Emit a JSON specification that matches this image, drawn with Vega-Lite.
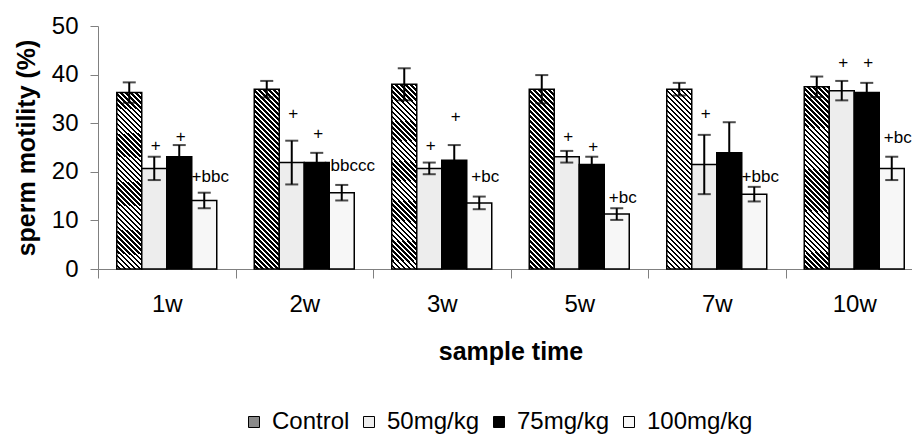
{
  "$schema": "https://vega.github.io/schema/vega-lite/v6.json",
  "width": 814,
  "height": 243,
  "autosize": {"type": "none"},
  "padding": {"left": 98, "top": 26, "right": 0, "bottom": 168},
  "background": "white",
  "config": {
    "font": "Liberation Sans",
    "view": {"stroke": null},
    "axis": {"grid": false},
    "axisX": {"tickBand": "extent", "labelAngle": 0, "labelFontSize": 24, "titleFontSize": 25, "titleFontWeight": "bold", "domainColor": "#808080", "tickColor": "#808080", "tickSize": 9, "labelPadding": 14, "titlePadding": 23, "labelColor": "black", "titleColor": "black"},
    "axisY": {"labelFontSize": 24, "titleFontSize": 25, "titleFontWeight": "bold", "domainColor": "#808080", "tickColor": "#808080", "tickSize": 8, "labelPadding": 12, "titlePadding": 12, "labelColor": "black", "titleColor": "black"}
  },
  "datasets": {
    "bars": [
      {"time": "1w", "group": "Control", "value": 36.3, "lo": 34.2, "hi": 38.4},
      {"time": "1w", "group": "50mg/kg", "value": 20.7, "lo": 18.3, "hi": 23.1},
      {"time": "1w", "group": "75mg/kg", "value": 23.1, "lo": 20.7, "hi": 25.5},
      {"time": "1w", "group": "100mg/kg", "value": 14.1, "lo": 12.5, "hi": 15.7},
      {"time": "2w", "group": "Control", "value": 37.0, "lo": 35.3, "hi": 38.7},
      {"time": "2w", "group": "50mg/kg", "value": 21.9, "lo": 17.4, "hi": 26.4},
      {"time": "2w", "group": "75mg/kg", "value": 21.9, "lo": 19.9, "hi": 23.9},
      {"time": "2w", "group": "100mg/kg", "value": 15.7, "lo": 14.1, "hi": 17.3},
      {"time": "3w", "group": "Control", "value": 38.0, "lo": 34.7, "hi": 41.3},
      {"time": "3w", "group": "50mg/kg", "value": 20.7, "lo": 19.5, "hi": 21.9},
      {"time": "3w", "group": "75mg/kg", "value": 22.4, "lo": 19.3, "hi": 25.5},
      {"time": "3w", "group": "100mg/kg", "value": 13.6, "lo": 12.3, "hi": 14.9},
      {"time": "5w", "group": "Control", "value": 37.0, "lo": 34.1, "hi": 39.9},
      {"time": "5w", "group": "50mg/kg", "value": 23.1, "lo": 21.9, "hi": 24.3},
      {"time": "5w", "group": "75mg/kg", "value": 21.5, "lo": 19.9, "hi": 23.1},
      {"time": "5w", "group": "100mg/kg", "value": 11.3, "lo": 10.1, "hi": 12.5},
      {"time": "7w", "group": "Control", "value": 37.0, "lo": 35.7, "hi": 38.3},
      {"time": "7w", "group": "50mg/kg", "value": 21.5, "lo": 15.4, "hi": 27.6},
      {"time": "7w", "group": "75mg/kg", "value": 23.9, "lo": 17.6, "hi": 30.2},
      {"time": "7w", "group": "100mg/kg", "value": 15.4, "lo": 13.9, "hi": 16.9},
      {"time": "10w", "group": "Control", "value": 37.5, "lo": 35.4, "hi": 39.6},
      {"time": "10w", "group": "50mg/kg", "value": 36.7, "lo": 34.7, "hi": 38.7},
      {"time": "10w", "group": "75mg/kg", "value": 36.3, "lo": 34.3, "hi": 38.3},
      {"time": "10w", "group": "100mg/kg", "value": 20.7, "lo": 18.3, "hi": 23.1}
    ],
    "labels": [
      {"time": "1w", "group": "50mg/kg", "label": "+", "pos": 25.3},
      {"time": "1w", "group": "75mg/kg", "label": "+", "pos": 27.2},
      {"time": "1w", "group": "100mg/kg", "label": "+bbc", "pos": 18.9},
      {"time": "2w", "group": "50mg/kg", "label": "+", "pos": 31.9},
      {"time": "2w", "group": "75mg/kg", "label": "+", "pos": 27.8},
      {"time": "2w", "group": "100mg/kg", "label": "+bbccc", "pos": 21.2},
      {"time": "3w", "group": "50mg/kg", "label": "+", "pos": 25.3},
      {"time": "3w", "group": "75mg/kg", "label": "+", "pos": 31.3},
      {"time": "3w", "group": "100mg/kg", "label": "+bc", "pos": 18.9},
      {"time": "5w", "group": "50mg/kg", "label": "+", "pos": 27.2},
      {"time": "5w", "group": "75mg/kg", "label": "+", "pos": 25.1},
      {"time": "5w", "group": "100mg/kg", "label": "+bc", "pos": 14.6},
      {"time": "7w", "group": "50mg/kg", "label": "+", "pos": 31.9},
      {"time": "7w", "group": "100mg/kg", "label": "+bbc", "pos": 18.9},
      {"time": "10w", "group": "50mg/kg", "label": "+", "pos": 42.3},
      {"time": "10w", "group": "75mg/kg", "label": "+", "pos": 42.3},
      {"time": "10w", "group": "100mg/kg", "label": "+bc", "pos": 26.9}
    ]
  },
  "encoding": {
    "x": {"field": "time", "type": "nominal", "sort": ["1w", "2w", "3w", "5w", "7w", "10w"], "title": "sample time", "scale": {"range": [0, 825], "paddingInner": 0, "paddingOuter": 0}},
    "xOffset": {"field": "group", "type": "nominal", "sort": ["Control", "50mg/kg", "75mg/kg", "100mg/kg"], "scale": {"paddingInner": 0, "paddingOuter": 0.75}}
  },
  "layer": [
    {
      "data": {"name": "bars"},
      "mark": {"type": "bar", "stroke": "black", "strokeWidth": 1.5},
      "encoding": {
        "y": {"field": "value", "type": "quantitative", "title": "sperm motility (%)", "scale": {"domain": [0, 50], "nice": false}, "axis": {"values": [0, 10, 20, 30, 40, 50]}},
        "fill": {
          "condition": {"test": "datum.group === 'Control'", "value":
              {"gradient": "linear", "x1": 1, "y1": 0, "x2": 0.845, "y2": 1.117, "stops": [
                {"offset": 0, "color": "#000"}, {"offset": 0.0122, "color": "#000"}, {"offset": 0.0122, "color": "#fff"}, {"offset": 0.0244, "color": "#fff"},
                {"offset": 0.0244, "color": "#000"}, {"offset": 0.0366, "color": "#000"}, {"offset": 0.0366, "color": "#fff"}, {"offset": 0.0488, "color": "#fff"},
                {"offset": 0.0488, "color": "#000"}, {"offset": 0.0610, "color": "#000"}, {"offset": 0.0610, "color": "#fff"}, {"offset": 0.0732, "color": "#fff"},
                {"offset": 0.0732, "color": "#000"}, {"offset": 0.0854, "color": "#000"}, {"offset": 0.0854, "color": "#fff"}, {"offset": 0.0976, "color": "#fff"},
                {"offset": 0.0976, "color": "#000"}, {"offset": 0.1098, "color": "#000"}, {"offset": 0.1098, "color": "#fff"}, {"offset": 0.1220, "color": "#fff"},
                {"offset": 0.1220, "color": "#000"}, {"offset": 0.1341, "color": "#000"}, {"offset": 0.1341, "color": "#fff"}, {"offset": 0.1463, "color": "#fff"},
                {"offset": 0.1463, "color": "#000"}, {"offset": 0.1585, "color": "#000"}, {"offset": 0.1585, "color": "#fff"}, {"offset": 0.1707, "color": "#fff"},
                {"offset": 0.1707, "color": "#000"}, {"offset": 0.1829, "color": "#000"}, {"offset": 0.1829, "color": "#fff"}, {"offset": 0.1951, "color": "#fff"},
                {"offset": 0.1951, "color": "#000"}, {"offset": 0.2073, "color": "#000"}, {"offset": 0.2073, "color": "#fff"}, {"offset": 0.2195, "color": "#fff"},
                {"offset": 0.2195, "color": "#000"}, {"offset": 0.2317, "color": "#000"}, {"offset": 0.2317, "color": "#fff"}, {"offset": 0.2439, "color": "#fff"},
                {"offset": 0.2439, "color": "#000"}, {"offset": 0.2561, "color": "#000"}, {"offset": 0.2561, "color": "#fff"}, {"offset": 0.2683, "color": "#fff"},
                {"offset": 0.2683, "color": "#000"}, {"offset": 0.2805, "color": "#000"}, {"offset": 0.2805, "color": "#fff"}, {"offset": 0.2927, "color": "#fff"},
                {"offset": 0.2927, "color": "#000"}, {"offset": 0.3049, "color": "#000"}, {"offset": 0.3049, "color": "#fff"}, {"offset": 0.3171, "color": "#fff"},
                {"offset": 0.3171, "color": "#000"}, {"offset": 0.3293, "color": "#000"}, {"offset": 0.3293, "color": "#fff"}, {"offset": 0.3415, "color": "#fff"},
                {"offset": 0.3415, "color": "#000"}, {"offset": 0.3537, "color": "#000"}, {"offset": 0.3537, "color": "#fff"}, {"offset": 0.3659, "color": "#fff"},
                {"offset": 0.3659, "color": "#000"}, {"offset": 0.3780, "color": "#000"}, {"offset": 0.3780, "color": "#fff"}, {"offset": 0.3902, "color": "#fff"},
                {"offset": 0.3902, "color": "#000"}, {"offset": 0.4024, "color": "#000"}, {"offset": 0.4024, "color": "#fff"}, {"offset": 0.4146, "color": "#fff"},
                {"offset": 0.4146, "color": "#000"}, {"offset": 0.4268, "color": "#000"}, {"offset": 0.4268, "color": "#fff"}, {"offset": 0.4390, "color": "#fff"},
                {"offset": 0.4390, "color": "#000"}, {"offset": 0.4512, "color": "#000"}, {"offset": 0.4512, "color": "#fff"}, {"offset": 0.4634, "color": "#fff"},
                {"offset": 0.4634, "color": "#000"}, {"offset": 0.4756, "color": "#000"}, {"offset": 0.4756, "color": "#fff"}, {"offset": 0.4878, "color": "#fff"},
                {"offset": 0.4878, "color": "#000"}, {"offset": 0.5000, "color": "#000"}, {"offset": 0.5000, "color": "#fff"}, {"offset": 0.5122, "color": "#fff"},
                {"offset": 0.5122, "color": "#000"}, {"offset": 0.5244, "color": "#000"}, {"offset": 0.5244, "color": "#fff"}, {"offset": 0.5366, "color": "#fff"},
                {"offset": 0.5366, "color": "#000"}, {"offset": 0.5488, "color": "#000"}, {"offset": 0.5488, "color": "#fff"}, {"offset": 0.5610, "color": "#fff"},
                {"offset": 0.5610, "color": "#000"}, {"offset": 0.5732, "color": "#000"}, {"offset": 0.5732, "color": "#fff"}, {"offset": 0.5854, "color": "#fff"},
                {"offset": 0.5854, "color": "#000"}, {"offset": 0.5976, "color": "#000"}, {"offset": 0.5976, "color": "#fff"}, {"offset": 0.6098, "color": "#fff"},
                {"offset": 0.6098, "color": "#000"}, {"offset": 0.6220, "color": "#000"}, {"offset": 0.6220, "color": "#fff"}, {"offset": 0.6341, "color": "#fff"},
                {"offset": 0.6341, "color": "#000"}, {"offset": 0.6463, "color": "#000"}, {"offset": 0.6463, "color": "#fff"}, {"offset": 0.6585, "color": "#fff"},
                {"offset": 0.6585, "color": "#000"}, {"offset": 0.6707, "color": "#000"}, {"offset": 0.6707, "color": "#fff"}, {"offset": 0.6829, "color": "#fff"},
                {"offset": 0.6829, "color": "#000"}, {"offset": 0.6951, "color": "#000"}, {"offset": 0.6951, "color": "#fff"}, {"offset": 0.7073, "color": "#fff"},
                {"offset": 0.7073, "color": "#000"}, {"offset": 0.7195, "color": "#000"}, {"offset": 0.7195, "color": "#fff"}, {"offset": 0.7317, "color": "#fff"},
                {"offset": 0.7317, "color": "#000"}, {"offset": 0.7439, "color": "#000"}, {"offset": 0.7439, "color": "#fff"}, {"offset": 0.7561, "color": "#fff"},
                {"offset": 0.7561, "color": "#000"}, {"offset": 0.7683, "color": "#000"}, {"offset": 0.7683, "color": "#fff"}, {"offset": 0.7805, "color": "#fff"},
                {"offset": 0.7805, "color": "#000"}, {"offset": 0.7927, "color": "#000"}, {"offset": 0.7927, "color": "#fff"}, {"offset": 0.8049, "color": "#fff"},
                {"offset": 0.8049, "color": "#000"}, {"offset": 0.8171, "color": "#000"}, {"offset": 0.8171, "color": "#fff"}, {"offset": 0.8293, "color": "#fff"},
                {"offset": 0.8293, "color": "#000"}, {"offset": 0.8415, "color": "#000"}, {"offset": 0.8415, "color": "#fff"}, {"offset": 0.8537, "color": "#fff"},
                {"offset": 0.8537, "color": "#000"}, {"offset": 0.8659, "color": "#000"}, {"offset": 0.8659, "color": "#fff"}, {"offset": 0.8780, "color": "#fff"},
                {"offset": 0.8780, "color": "#000"}, {"offset": 0.8902, "color": "#000"}, {"offset": 0.8902, "color": "#fff"}, {"offset": 0.9024, "color": "#fff"},
                {"offset": 0.9024, "color": "#000"}, {"offset": 0.9146, "color": "#000"}, {"offset": 0.9146, "color": "#fff"}, {"offset": 0.9268, "color": "#fff"},
                {"offset": 0.9268, "color": "#000"}, {"offset": 0.9390, "color": "#000"}, {"offset": 0.9390, "color": "#fff"}, {"offset": 0.9512, "color": "#fff"},
                {"offset": 0.9512, "color": "#000"}, {"offset": 0.9634, "color": "#000"}, {"offset": 0.9634, "color": "#fff"}, {"offset": 0.9756, "color": "#fff"},
                {"offset": 0.9756, "color": "#000"}, {"offset": 0.9878, "color": "#000"}, {"offset": 0.9878, "color": "#fff"}, {"offset": 1, "color": "#fff"}
              ]}
          },
          "field": "group", "type": "nominal",
          "scale": {
            "domain": ["Control", "50mg/kg", "75mg/kg", "100mg/kg"],
            "range": ["#8a8a8a", "#ededed", "#000000", "#f7f7f7"]
          },
          "legend": {"orient": "none", "legendX": 144, "legendY": 384, "direction": "horizontal", "title": null, "symbolType": "square", "symbolSize": 121, "labelFontSize": 24, "labelOffset": 6, "columnPadding": 7, "symbolStrokeColor": "black", "symbolStrokeWidth": 1, "padding": 0, "labelColor": "black"}
        }
      }
    },
    {
      "data": {"name": "bars"},
      "mark": {"type": "rule", "color": "black", "strokeWidth": 2},
      "encoding": {
        "y": {"field": "lo", "type": "quantitative", "title": "sperm motility (%)"},
        "y2": {"field": "hi"}
      }
    },
    {
      "data": {"name": "bars"},
      "mark": {"type": "tick", "color": "black", "thickness": 2, "size": 13, "orient": "horizontal"},
      "encoding": {
        "y": {"field": "hi", "type": "quantitative", "title": "sperm motility (%)"}
      }
    },
    {
      "data": {"name": "bars"},
      "mark": {"type": "tick", "color": "black", "thickness": 2, "size": 13, "orient": "horizontal"},
      "encoding": {
        "y": {"field": "lo", "type": "quantitative", "title": "sperm motility (%)"}
      }
    },
    {
      "data": {"name": "labels"},
      "transform": [{"filter": "datum.label === '+'"}],
      "mark": {"type": "text", "fontSize": 17, "align": "center", "baseline": "middle", "dx": 1.5, "color": "black"},
      "encoding": {
        "y": {"field": "pos", "type": "quantitative", "title": "sperm motility (%)"},
        "text": {"field": "label"}
      }
    },
    {
      "data": {"name": "labels"},
      "transform": [{"filter": "datum.label !== '+'"}],
      "mark": {"type": "text", "fontSize": 17, "align": "center", "baseline": "middle", "dx": 6, "color": "black"},
      "encoding": {
        "y": {"field": "pos", "type": "quantitative", "title": "sperm motility (%)"},
        "text": {"field": "label"}
      }
    }
  ]
}
